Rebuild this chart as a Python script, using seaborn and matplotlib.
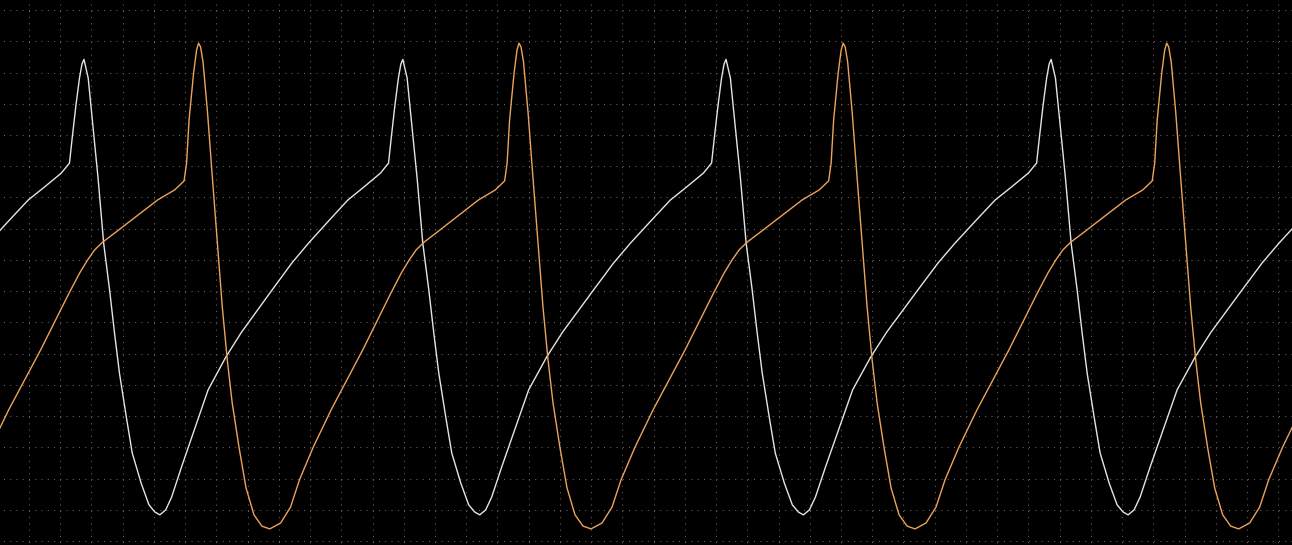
import matplotlib
matplotlib.use("Agg")
import matplotlib.pyplot as plt
import numpy as np
import pandas as pd
import seaborn as sns

# One cycle of each trace.
# time: divisions after the peak, level: divisions above the bottom grid line
white_t = [0.000, 0.138, 0.298, 0.458, 0.640, 0.833, 0.993, 1.153, 1.377, 1.569,
           1.857, 2.113, 2.305, 2.466, 2.658, 2.850, 3.170, 3.618, 4.035, 4.611,
           5.123, 5.475, 6.116, 6.756, 7.301, 8.037, 8.581, 9.094, 9.638, 9.901,
           9.981, 10.109, 10.221, 10.301, 10.365]
white_v = [15.42, 14.82, 13.22, 11.62, 9.54, 8.04, 6.66, 5.38, 3.97, 2.82,
           1.86, 1.16, 0.93, 0.84, 1.00, 1.41, 2.37, 3.65, 4.84, 5.89,
           6.69, 7.17, 8.04, 8.90, 9.54, 10.34, 10.92, 11.33, 11.78, 12.10,
           12.84, 13.96, 14.82, 15.27, 15.42]

orange_t = [0.000, 0.064, 0.144, 0.288, 0.448, 0.608, 0.768, 0.929, 1.089, 1.313,
            1.537, 1.793, 2.049, 2.305, 2.658, 2.978, 3.266, 3.714, 4.291, 4.803,
            5.315, 5.796, 6.212, 6.564, 6.820, 7.044, 7.301, 7.685, 8.101, 8.645,
            9.062, 9.606, 9.910, 9.990, 10.070, 10.215, 10.311, 10.375]
orange_v = [15.94, 15.82, 15.34, 13.74, 11.62, 9.57, 7.49, 5.80, 4.42, 2.98,
            1.70, 0.84, 0.48, 0.39, 0.58, 1.09, 1.96, 3.01, 4.20, 5.16,
            6.12, 7.08, 7.91, 8.58, 9.00, 9.32, 9.57, 9.86, 10.18, 10.60,
            10.92, 11.24, 11.53, 12.10, 13.48, 14.98, 15.72, 15.94]

# peak times (divisions), first one is just before the left edge of the screen
white_peaks = [-8.60, 1.76, 11.97, 22.32, 32.73, 43.09]
orange_peaks = [-4.94, 5.43, 15.69, 26.07, 36.43, 46.80]


def build_trace(name, shape_t, shape_v, peaks):
    rows = []
    span = shape_t[-1]
    for start, end in zip(peaks[:-1], peaks[1:]):
        scale = (end - start) / span
        for t, v in zip(shape_t[:-1], shape_v[:-1]):
            rows.append({'channel': name, 'time': start + t * scale, 'level': v})
    return rows


traces = pd.DataFrame(build_trace('CH1', white_t, white_v, white_peaks)
                      + build_trace('CH2', orange_t, orange_v, orange_peaks))

sns.set_style('dark', {'axes.facecolor': 'black', 'figure.facecolor': 'black'})
plt.rcParams['lines.scale_dashes'] = False

fig = plt.figure(figsize=(12.92, 5.45), dpi=100)
ax = fig.add_axes([0, 0, 1, 1])

sns.lineplot(data=traces, x='time', y='level', hue='channel',
             palette={'CH1': '#e4e4e4', 'CH2': '#eda35c'},
             sort=False, estimator=None, legend=False, linewidth=1.0, ax=ax)

ax.set_xlim(-0.9286, 40.442)
ax.set_ylim(-0.125, 17.321)
ax.set_xticks(np.arange(0, 41))
ax.set_yticks(np.arange(0, 18))
ax.set_xticklabels([])
ax.set_yticklabels([])
ax.tick_params(length=0)
ax.set_xlabel('')
ax.set_ylabel('')
for s in ax.spines.values():
    s.set_visible(False)

# dotted scope graticule: one dot every fifth of a division
ax.grid(axis='y', color='#6c6c6c', linewidth=0.72, linestyle=(1.98, (0.72, 3.78)))
ax.grid(axis='x', color='#6c6c6c', linewidth=0.72, linestyle=(2.77, (0.72, 3.78)))
ax.set_axisbelow(True)

fig.savefig('out.png', dpi=100, facecolor='black')
